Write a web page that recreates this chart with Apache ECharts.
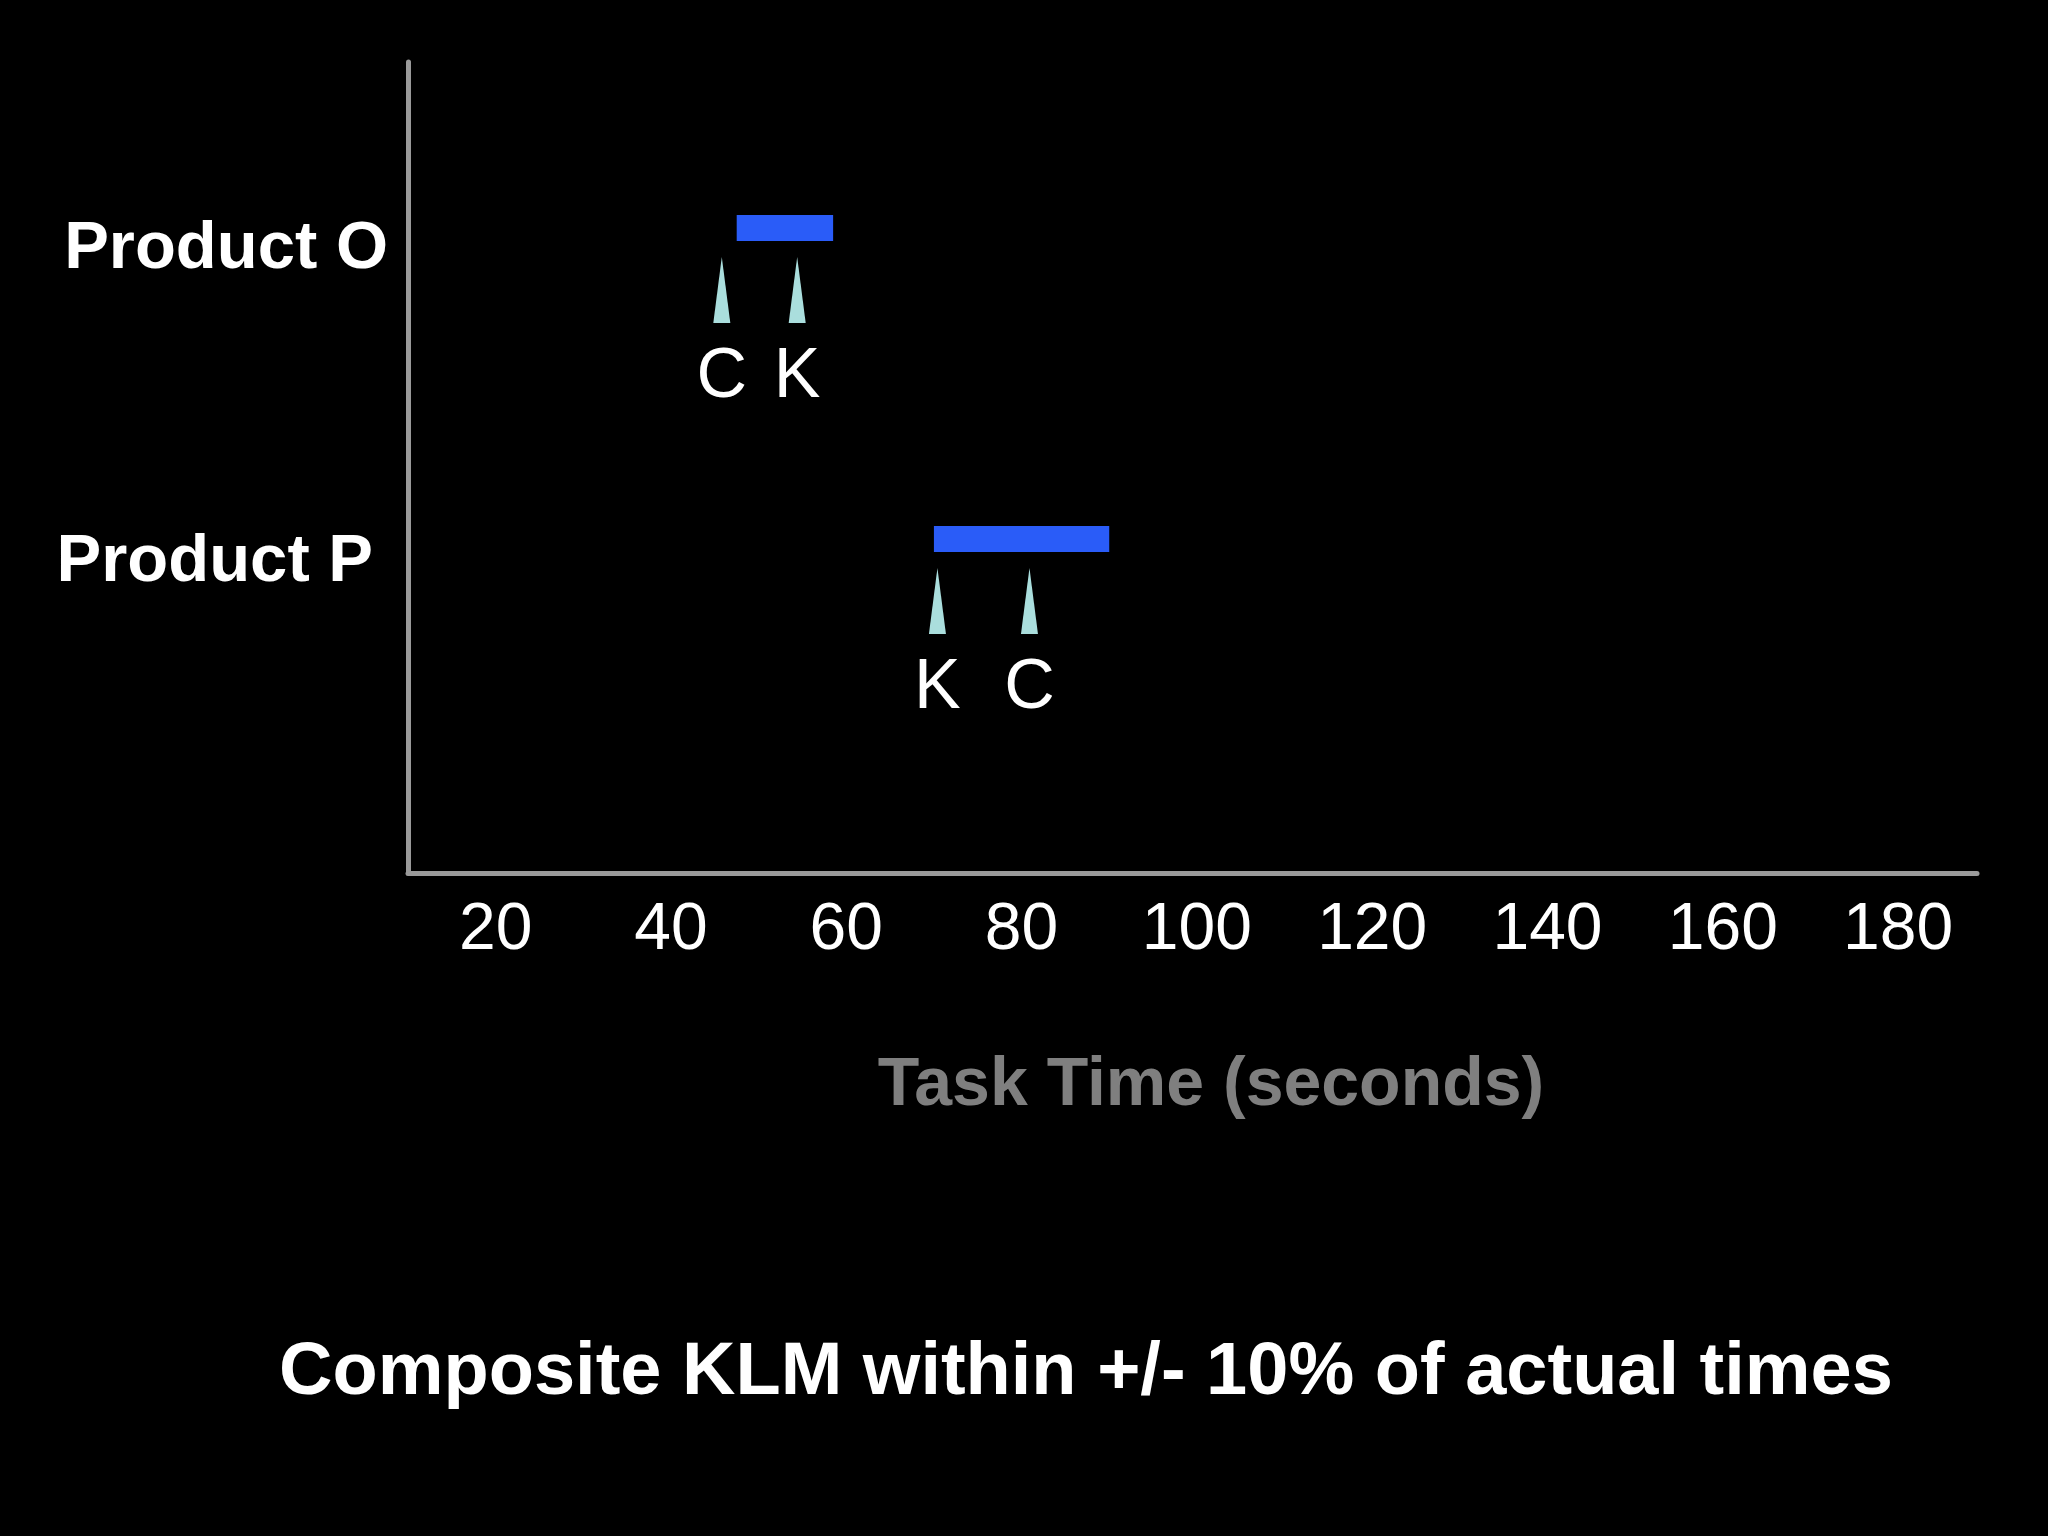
<!DOCTYPE html>
<html>
<head>
<meta charset="utf-8">
<style>
  html, body { margin: 0; padding: 0; background: #000; }
  #chart { width: 2048px; height: 1536px; }
</style>
<script src="https://cdn.jsdelivr.net/npm/echarts@6/dist/echarts.min.js"></script>
</head>
<body>
<div id="chart"></div>
<script>
// ---- data ----
const products = ['Product O', 'Product P'];
const productRows = [1, 2];
const rangeStart = [47.5, 70];
const rangeEnd = [58.5, 90];
const markerValues = [45.8, 54.4, 70.4, 80.9];
const markerRows = [1, 1, 2, 2];
const markerLabels = ['C', 'K', 'K', 'C'];
const xTicks = [20, 40, 60, 80, 100, 120, 140, 160, 180];
const xTitle = 'Task Time (seconds)';
const footer = 'Composite KLM within +/- 10% of actual times';

const FONT = '"Liberation Sans", Arial, Helvetica, sans-serif';
const barData = rangeStart.map((s, i) => [s, rangeEnd[i], productRows[i]]);
const markerData = markerValues.map((v, i) => [v, markerRows[i], markerLabels[i]]);

const chart = echarts.init(document.getElementById('chart'));
chart.setOption({
  backgroundColor: '#000000',
  animation: false,
  title: [
    {
      text: xTitle, left: 1211, top: 1052, textAlign: 'center', padding: 0,
      textStyle: { color: '#7f7f7f', fontSize: 68, fontWeight: 'bold', fontFamily: FONT, lineHeight: 68 }
    },
    {
      text: footer, left: 1086, top: 1337, textAlign: 'center', padding: 0,
      textStyle: { color: '#ffffff', fontSize: 74, fontWeight: 'bold', fontFamily: FONT, lineHeight: 74 }
    }
  ],
  grid: { left: 408, right: 71, top: 62, bottom: 663, containLabel: false },
  xAxis: {
    type: 'value', min: 10, max: 189,
    axisLine: { show: true, lineStyle: { color: '#9a9a9a', width: 5 } },
    axisTick: { show: false },
    splitLine: { show: false },
    axisLabel: {
      customValues: xTicks, margin: 25, color: '#ffffff', fontSize: 66, lineHeight: 66,
      fontFamily: FONT
    }
  },
  yAxis: {
    type: 'value', inverse: true, min: 0.466, max: 3.074,
    axisLine: { show: true, lineStyle: { color: '#9a9a9a', width: 5 } },
    axisTick: { show: false },
    splitLine: { show: false },
    axisLabel: {
      customValues: productRows, margin: 20,
      formatter: function (v) {
        const i = productRows.indexOf(v);
        return i === 0 ? '{o|' + products[0] + '}' : '{p|' + products[1] + '}';
      },
      rich: {
        o: { color: '#fff', fontSize: 67, fontWeight: 'bold', fontFamily: FONT, padding: [42, 0, 0, 0] },
        p: { color: '#fff', fontSize: 67, fontWeight: 'bold', fontFamily: FONT, padding: [48, 15, 0, 0] }
      }
    }
  },
  series: [
    {
      type: 'custom',
      data: barData,
      renderItem: function (params, api) {
        const s = api.coord([api.value(0), api.value(2)]);
        const e = api.coord([api.value(1), api.value(2)]);
        return {
          type: 'rect',
          shape: { x: s[0], y: s[1] - 13, width: e[0] - s[0], height: 26 },
          style: { fill: '#2a5cf8' }
        };
      }
    },
    {
      type: 'custom',
      data: markerData,
      renderItem: function (params, api) {
        const p = api.coord([api.value(0), api.value(1)]);
        const label = markerData[params.dataIndex][2];
        return {
          type: 'group',
          children: [
            {
              type: 'polygon',
              shape: { points: [[p[0], p[1] + 29], [p[0] - 8.5, p[1] + 95], [p[0] + 8.5, p[1] + 95]] },
              style: { fill: '#aadedd' }
            },
            {
              type: 'text',
              style: {
                x: p[0], y: p[1] + 150, text: label, fill: '#ffffff',
                font: '70px ' + FONT, align: 'center', verticalAlign: 'middle'
              }
            }
          ]
        };
      }
    }
  ]
});
</script>
</body>
</html>
